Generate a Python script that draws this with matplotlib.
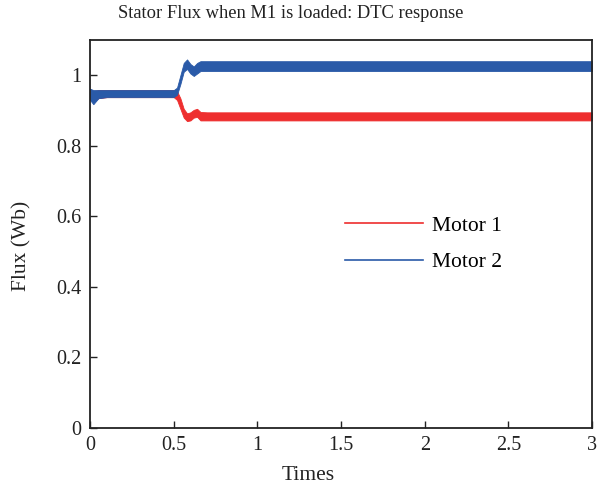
import matplotlib
matplotlib.use("Agg")
import matplotlib.pyplot as plt
from matplotlib.lines import Line2D

plt.rcParams['font.family'] = ['Liberation Serif', 'DejaVu Serif']

# Envelope of the rippling flux signals
t_m1 = [0.0, 0.02, 0.05, 0.10, 0.50, 0.52, 0.54, 0.56, 0.58, 0.60, 0.62, 0.64, 0.66, 0.70, 1.0, 2.0, 3.0]
m1_low = [0.935, 0.925, 0.935, 0.938, 0.938, 0.930, 0.905, 0.880, 0.870, 0.872, 0.880, 0.882, 0.872, 0.872, 0.872, 0.872, 0.872]
m1_high = [0.960, 0.955, 0.958, 0.958, 0.958, 0.955, 0.935, 0.905, 0.892, 0.895, 0.902, 0.905, 0.896, 0.895, 0.895, 0.895, 0.895]

t_m2 = [0.0, 0.02, 0.05, 0.10, 0.50, 0.52, 0.54, 0.56, 0.58, 0.60, 0.62, 0.64, 0.66, 0.70, 1.0, 2.0, 3.0]
m2_low = [0.930, 0.918, 0.935, 0.938, 0.938, 0.945, 0.975, 1.010, 1.018, 1.005, 0.998, 1.005, 1.012, 1.012, 1.012, 1.012, 1.012]
m2_high = [0.962, 0.958, 0.958, 0.958, 0.958, 0.965, 1.000, 1.035, 1.045, 1.032, 1.025, 1.035, 1.040, 1.040, 1.040, 1.040, 1.040]

labels = ["Motor 1", "Motor 2"]
c1 = "#ee2e2e"
c2 = "#2a5aa8"
txt = '#222222'

fig = plt.figure(figsize=(6.02, 4.88), dpi=100)
ax = fig.add_axes([0.1495, 0.123, 0.834, 0.795])

ax.fill_between(t_m1, m1_low, m1_high, color=c1, linewidth=0.6, edgecolor=c1)
ax.fill_between(t_m2, m2_low, m2_high, color=c2, linewidth=0.6, edgecolor=c2)

ax.set_xlim(0, 3)
ax.set_ylim(0, 1.1)
ax.set_xticks([0, 0.5, 1, 1.5, 2, 2.5, 3])
ax.set_xticklabels(["0", "0.5", "1", "1.5", "2", "2.5", "3"])
ax.set_yticks([0, 0.2, 0.4, 0.6, 0.8, 1])
ax.set_yticklabels(["0", "0.2", "0.4", "0.6", "0.8", "1"])
ax.tick_params(direction='in', length=5, width=1, labelsize=14.5, pad=6, colors=txt)
for s in ax.spines.values():
    s.set_linewidth(1.3)
    s.set_color(txt)

fig.text(291/602, 1 - 14/488, "Stator Flux when M1 is loaded: DTC response",
         fontsize=13.3, ha='center', va='center', color=txt)
fig.text(308/602, 1 - 475/488, "Times", fontsize=15.5, ha='center', va='center', color=txt)
fig.text(22/602, 1 - 246/488, "Flux (Wb)", fontsize=15.5, ha='center', va='center',
         rotation=90, color=txt)

handles = [Line2D([], [], color=c1, lw=1.2), Line2D([], [], color=c2, lw=1.2)]
ax.legend(handles, labels, loc='upper left', bbox_to_anchor=(0.508, 0.547), frameon=False,
          fontsize=15.5, handlelength=3.6, handletextpad=0.42, labelspacing=0.76, borderpad=0,
          borderaxespad=0)

fig.savefig("out.png", dpi=100)
